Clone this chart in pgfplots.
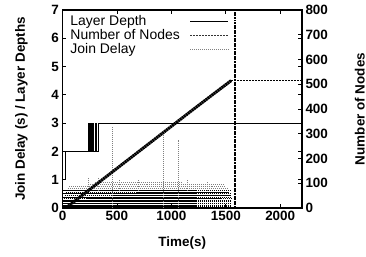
\documentclass[border=0pt]{standalone}
\usepackage{pgfplots}
\pgfplotsset{compat=1.18}
\usepackage{fontspec}
\setmainfont{Liberation Sans}
\begin{document}
\begin{tikzpicture}
\useasboundingbox (-62.5bp,-49bp) rectangle (303.5bp,208bp);
\pgfplotsset{
  common/.style={
    scale only axis, width=239.5bp, height=198bp,
    at={(0bp,0bp)}, anchor=south west,
    xmin=0, xmax=2200,
    tick align=inside, major tick length=4bp,
    tick style={black, line width=0.8pt},
    axis line style={line width=1.1pt},
    ticklabel style={font=\bfseries\fontsize{13.5}{13.5}\selectfont},
    label style={font=\bfseries\fontsize{13.5}{13.5}\selectfont},
    /pgf/number format/assume math mode=true,
    /pgf/number format/.cd, 1000 sep={},
  },
}
\begin{axis}[common,
  ymin=0, ymax=7, ytick={0,1,...,7},
  xtick={0,500,1000,1500,2000},
  xtick pos=both, ytick pos=both,
  xlabel={Time(s)}, ylabel={Join Delay (s) / Layer Depths},
  xlabel style={yshift=-9bp},
  ylabel style={yshift=17bp},
  unbounded coords=jump,
]
% Join delay (dense lower band)
\addplot[black, line width=0.8pt, dash pattern=on 1.5pt off 0.5pt] coordinates {
 (0,0.04)(1550,0.04) (0,nan)
 (0,0.10)(1555,0.10) (0,nan)
 (0,0.16)(1550,0.16) (0,nan)
 (0,0.22)(1545,0.22) (0,nan)
 (0,0.27)(1550,0.27) (0,nan)
 (10,0.33)(1550,0.33) (0,nan)
 (0,0.38)(1540,0.38) (0,nan)
 (20,0.44)(1550,0.44) (0,nan)
 (0,0.50)(1550,0.50) (0,nan)
 (30,0.56)(1530,0.56) (0,nan)
 (0,0.62)(1550,0.62) (0,nan)
};
% Join delay (lighter upper lines and spikes)
\addplot[gray, line width=0.6pt, dash pattern=on 1pt off 1pt] coordinates {
 (50,0.69)(1520,0.69) (0,nan)
 (60,0.76)(1500,0.76) (0,nan)
 (250,0.84)(1480,0.84) (0,nan)
 (300,0.92)(1100,0.92) (0,nan)
 (455,0)(455,2.86) (0,nan)
 (925,0)(925,2.6) (0,nan)
 (1065,0)(1065,2.4) (0,nan)
 (240,0.6)(240,1.05) (0,nan)
 (330,0.6)(330,1.05) (0,nan)
 (520,0.6)(520,1.0) (0,nan)
 (700,0.6)(700,1.0) (0,nan)
 (1150,0.6)(1150,1.0) (0,nan)
 (1330,0.6)(1330,0.95) (0,nan)
};
% Layer depth
\addplot[black, line width=0.9pt] coordinates {
 (0,1)(23,1)(23,2)(234,2)(234,3)(245,3)(245,2)(255,2)(255,3)(265,3)(265,2)(275,2)(275,3)(285,3)(285,2)(300,2)(300,3)(310,3)(310,2)(326,2)(326,3)(2200,3)
};
\end{axis}
\begin{axis}[common,
  axis x line=none, axis y line*=right,
  ymin=0, ymax=800, ytick={0,100,...,800},
  ylabel={Number of Nodes},
  ylabel style={yshift=-20bp},
  legend plot pos=right,
  legend cell align=left,
  legend style={at={(axis description cs:0.02,0.99)}, anchor=north west,
    draw=none, fill=none, font=\fontsize{14}{14}\selectfont,
    row sep=-1.5bp, column sep=8bp, inner sep=1bp},
  legend image code/.code={\draw[#1] (0bp,0bp) -- (38bp,0bp);},
]
\addlegendimage{black, line width=0.9pt}
\addlegendentry{Layer Depth}
\addlegendimage{black!80, line width=1pt, dash pattern=on 2pt off 1pt}
\addlegendentry{Number of Nodes}
\addlegendimage{gray, line width=0.8pt, dash pattern=on 1pt off 1pt}
\addlegendentry{Join Delay}
% Number of nodes
\addplot[black, line width=3bp, dash pattern=on 2pt off 0.5pt, forget plot] coordinates {
 (30,0)(200,58)(400,126)(600,194)(800,262)(1000,330)(1200,398)(1400,465)(1550,515)
};
\addplot[black, line width=1.2pt, dash pattern=on 2pt off 1pt, forget plot] coordinates {
 (1550,515)(2200,515)
};
\addplot[black, line width=1.2pt, dash pattern=on 2pt off 0.6pt, forget plot] coordinates {
 (1585,0)(1585,800)
};
\end{axis}
\end{tikzpicture}
\end{document}
